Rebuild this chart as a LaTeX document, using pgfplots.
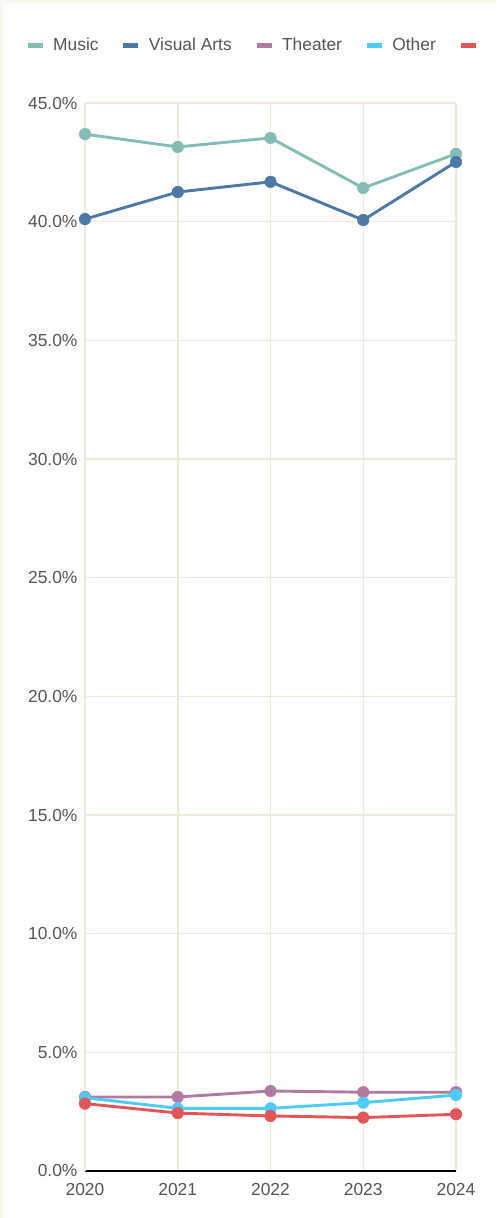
\documentclass[border=0pt]{standalone}
\usepackage{fontspec}
\setmainfont{Liberation Sans}
\usepackage{pgfplots}
\pgfplotsset{compat=1.18}
\definecolor{bgcream}{HTML}{FAF7F0}
\definecolor{gridc}{HTML}{EFE9DC}
\definecolor{cMusic}{HTML}{83BDB5}
\definecolor{cVis}{HTML}{4E78A6}
\definecolor{cThe}{HTML}{B07AA1}
\definecolor{cOth}{HTML}{4FCBF9}
\definecolor{cRed}{HTML}{E15759}
\definecolor{txt}{HTML}{555555}
\begin{document}
\begin{tikzpicture}[x=1pt,y=1pt]
\fill[bgcream] (0,0) rectangle (496,1218);
\fill[white] (3,0) rectangle (496,1215);
\begin{axis}[
  at={(85pt,47pt)}, anchor=south west,
  scale only axis, width=371pt, height=1068pt,
  xmin=2020, xmax=2024, ymin=0, ymax=45,
  clip=false,
  axis x line*=bottom, axis y line*=left,
  x axis line style={black, line width=2.2pt},
  y axis line style={gridc, line width=1.5pt},
  grid=major, grid style={gridc, line width=1.5pt},
  tick style={draw=none},
  xtick={2020,2021,2022,2023,2024},
  xticklabels={2020,2021,2022,2023,2024},
  ytick={0,5,10,15,20,25,30,35,40,45},
  yticklabels={0.0\%,5.0\%,10.0\%,15.0\%,20.0\%,25.0\%,30.0\%,35.0\%,40.0\%,45.0\%},
  ticklabel style={font=\fontsize{17.4}{20}\selectfont, text=txt},
  yticklabel style={xshift=-4pt},
  xticklabel style={yshift=-9pt},
  legend columns=5,
  legend style={at={(axis description cs:0,1)}, anchor=west, xshift=-60pt, yshift=58pt,
    draw=none, fill=none, inner sep=0pt, font=\fontsize{17.4}{20}\selectfont, text=txt,
    /tikz/every even column/.append style={column sep=20.3pt},
    /tikz/every odd column/.append style={column sep=6pt}},
  legend image code/.code={\draw[line width=5pt, line cap=butt] (0pt,0pt) -- (15pt,0pt);},
  every axis plot/.append style={line width=2.9pt, mark=*, mark size=5.8pt, mark options={solid, line width=0.5pt}},
]
\addplot[cMusic] coordinates {(2020,43.69) (2021,43.15) (2022,43.53) (2023,41.42) (2024,42.86)};
\addlegendentry{Music}
\addplot[cVis] coordinates {(2020,40.11) (2021,41.25) (2022,41.68) (2023,40.07) (2024,42.52)};
\addlegendentry{Visual Arts}
\addplot[cThe] coordinates {(2020,3.12) (2021,3.12) (2022,3.37) (2023,3.32) (2024,3.32)};
\addlegendentry{Theater}
\addplot[cOth] coordinates {(2020,3.09) (2021,2.64) (2022,2.64) (2023,2.88) (2024,3.20)};
\addlegendentry{Other}
\addplot[cRed] coordinates {(2020,2.84) (2021,2.44) (2022,2.32) (2023,2.25) (2024,2.39)};
\addlegendentry{\mbox{}}
\end{axis}
\pgfresetboundingbox
\useasboundingbox (0,0) rectangle (496,1218);
\end{tikzpicture}
\end{document}
